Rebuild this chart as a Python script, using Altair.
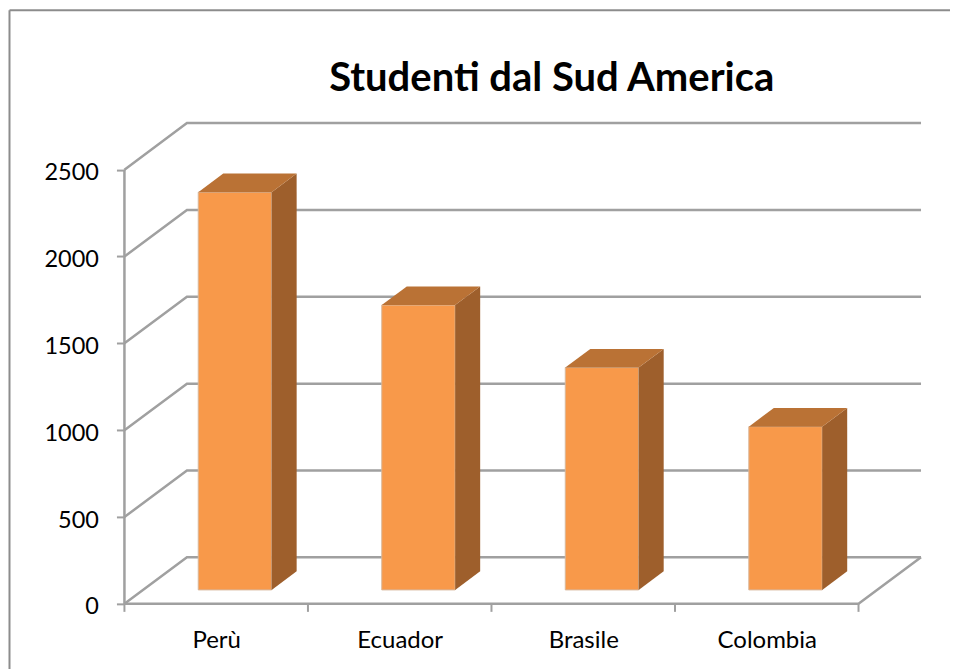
import altair as alt
import pandas as pd

categories = ["Perù", "Ecuador", "Brasile", "Colombia"]
values = [2290, 1640, 1280, 940]
y_ticks = [0, 500, 1000, 1500, 2000, 2500]
title_text = "Studenti dal Sud America"

# oblique projection of the 3-D chart: depth t (0 front, 1 back wall)
DEPTH_X = 0.3406   # in category units
DEPTH_Y = 268      # in value units
BAR_START, BAR_END = 0.3, 0.7  # both along the category and along the depth

W, H = 797, 481
FONT = "Lato"
LINE = "#a0a0a0"


def px(u, t):
    return u + t * DEPTH_X


def py(v, t):
    return v + t * DEPTH_Y


n = len(categories)
lines = []
for v in y_ticks:
    for o, (u, t) in enumerate([(0, 0), (0, 1), (n, 1)]):
        lines.append({"g": f"grid{v}", "o": o, "x": px(u, t), "y": py(v, t)})
for o, (u, v, t) in enumerate([(0, y_ticks[-1], 0), (0, 0, 0), (n, 0, 0), (n, 0, 1)]):
    lines.append({"g": "frame", "o": o, "x": px(u, t), "y": py(v, t)})
lines = pd.DataFrame(lines)

front, side, top = [], [], []
for i, (c, v) in enumerate(zip(categories, values)):
    a, b = i + BAR_START, i + BAR_END
    front.append({"c": c, "x": px(a, BAR_START), "x2": px(b, BAR_START),
                  "y": py(v, BAR_START), "y2": py(0, BAR_START)})
    for t in (BAR_START, BAR_END):
        side.append({"c": c, "x": px(b, t), "y": py(v, t), "y2": py(0, t)})
        top.append({"c": c, "y": py(v, t), "x": px(a, t), "x2": px(b, t)})
front, side, top = pd.DataFrame(front), pd.DataFrame(side), pd.DataFrame(top)

xs = alt.Scale(domain=[0, n + DEPTH_X], nice=False, zero=False)
ys = alt.Scale(domain=[0, y_ticks[-1] + DEPTH_Y], nice=False, zero=False)

label_expr = "[" + ",".join(f"'{c}'" for c in categories) + "][floor(datum.value)]"
x_axis = alt.Axis(values=[i + 0.5 for i in range(n)], labelExpr=label_expr, title=None, grid=False,
                  domain=False, ticks=False, labelPadding=25, labelFont=FONT, labelFontSize=24,
                  labelColor="#000000", labelAngle=0, labelBaseline="top")
y_axis = alt.Axis(values=y_ticks, format="d", title=None, grid=False, domain=False, tickSize=8,
                  tickWidth=2, tickColor=LINE, labelPadding=18, labelFont=FONT, labelFontSize=23.5,
                  labelColor="#000000", labelOffset=3)

grid = alt.Chart(lines).mark_line(color=LINE, strokeWidth=2.5, strokeJoin="miter").encode(
    x=alt.X("x:Q", scale=xs, axis=x_axis),
    y=alt.Y("y:Q", scale=ys, axis=y_axis),
    detail="g:N",
    order="o:Q",
)
ticks = alt.Chart(pd.DataFrame({"u": list(range(n + 1))})).mark_rule(color=LINE, strokeWidth=2).encode(
    x=alt.X("u:Q", scale=xs),
    y=alt.value(H),
    y2=alt.value(H + 8),
)
front_m = alt.Chart(front).mark_rect(color="#F8994A", stroke="#d8b79a", strokeWidth=1).encode(
    x=alt.X("x:Q", scale=xs), x2="x2:Q",
    y=alt.Y("y:Q", scale=ys), y2="y2:Q",
)
side_m = alt.Chart(side).mark_area(color="#9E5F2C", orient="vertical").encode(
    x=alt.X("x:Q", scale=xs),
    y=alt.Y("y:Q", scale=ys), y2="y2:Q",
    detail="c:N",
)
top_m = alt.Chart(top).mark_area(color="#BA7235", orient="horizontal").encode(
    y=alt.Y("y:Q", scale=ys),
    x=alt.X("x:Q", scale=xs), x2="x2:Q",
    detail="c:N",
)
# outer chart-area border: only its top and left edges are in the picture
border_top = alt.Chart(pd.DataFrame({"k": [0]})).mark_rule(color="#8c8c8c", strokeWidth=2).encode(
    x=alt.value(-115), x2=alt.value(W + 40), y=alt.value(-113),
)
border_left = alt.Chart(pd.DataFrame({"k": [0]})).mark_rule(color="#8c8c8c", strokeWidth=2).encode(
    x=alt.value(-115), y=alt.value(-113), y2=alt.value(H + 70),
)

chart = alt.layer(border_top, border_left, grid, ticks, front_m, side_m, top_m).properties(
    width=W, height=H,
    title=alt.TitleParams(title_text, font=FONT, fontSize=40, fontWeight="bold", color="#000000",
                          anchor="middle", dx=29, offset=-90),
    padding={"left": 116.5, "top": 115, "right": 29, "bottom": 65},
    autosize=alt.AutoSizeParams(type="none"),
    background="#ffffff",
).configure_view(stroke=None)

chart.save("out.html", embed_options={"renderer": "svg", "actions": False})
